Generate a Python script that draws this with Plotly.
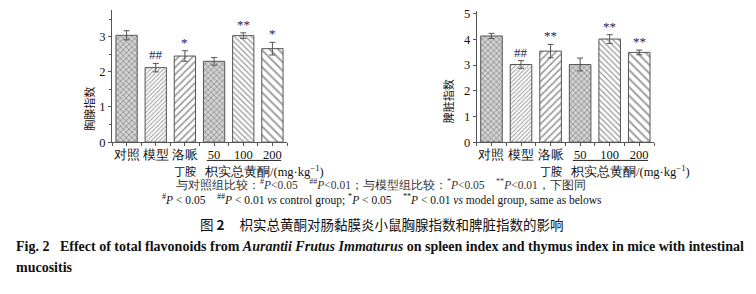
import plotly.graph_objects as go

# ---------------- data ----------------
categories = ["对照", "模型", "洛哌", "50", "100", "200"]
thymus_mean = [3.04, 2.12, 2.45, 2.30, 3.03, 2.66]
thymus_err = [0.13, 0.12, 0.15, 0.11, 0.08, 0.18]
thymus_sig = ["", "##", "*", "", "**", "*"]
spleen_mean = [4.13, 3.02, 3.54, 3.02, 4.01, 3.49]
spleen_err = [0.10, 0.15, 0.26, 0.25, 0.17, 0.09]
spleen_sig = ["", "##", "**", "", "**", "**"]

pat_shape = ["x", "/", "/", "x", "\\", "\\"]
pat_size = [4, 3, 5, 4, 4, 6]
pat_bg = ["#d2d2d2", "#ffffff", "#ffffff", "#d2d2d2", "#ffffff", "#ffffff"]
pat_fg = ["#6a6a6a", "#8a8a8a", "#8a8a8a", "#6a6a6a", "#8a8a8a", "#8a8a8a"]

W, H = 756, 294
SERIF = "Liberation Serif"
CJK = "Noto Sans CJK SC"
xs = list(range(len(categories)))

fig = go.Figure()

def add_bars(mean, err, xa, ya):
    fig.add_trace(go.Bar(
        x=xs, y=mean, xaxis=xa, yaxis=ya, width=0.73,
        marker=dict(color=pat_bg, line=dict(color="#555555", width=1),
                    pattern=dict(shape=pat_shape, size=pat_size, fgcolor=pat_fg,
                                 bgcolor=pat_bg, solidity=0.35)),
        error_y=dict(type="data", array=err, color="#555555", thickness=1, width=3),
        showlegend=False, hoverinfo="skip"))

add_bars(thymus_mean, thymus_err, "x", "y")
add_bars(spleen_mean, spleen_err, "x2", "y2")

def px_x(p):
    return p / W

def px_y(p):
    return (H - p) / H

ax_common = dict(showline=True, linecolor="#555555", linewidth=1, ticks="outside",
                 ticklen=3, tickcolor="#555555", showgrid=False, zeroline=False,
                 tickfont=dict(family=SERIF, size=12.5, color="#111"))

y0 = 143.5
xminor = dict(tickvals=[i + 0.5 for i in range(-1, 6)], ticklen=3,
              tickcolor="#555555", ticks="outside")
fig.update_layout(
    width=W, height=H, margin=dict(l=0, r=0, t=0, b=0),
    plot_bgcolor="white", paper_bgcolor="white", bargap=0.27,
    xaxis=dict(domain=[px_x(112), px_x(287)], range=[-0.5, 5.5],
               tickvals=xs, ticktext=categories, anchor="y", ticklabelstandoff=-2,
               minor=xminor, **ax_common),
    yaxis=dict(domain=[px_y(y0), px_y(6.6)], range=[0, 3.75], tickvals=[0, 1, 2, 3],
               anchor="x", minor=dict(dtick=0.5, ticklen=2, ticks="outside",
                                      tickcolor="#555555"), **ax_common),
    xaxis2=dict(domain=[px_x(476.7), px_x(654)], range=[-0.5, 5.5],
                tickvals=xs, ticktext=categories, anchor="y2", ticklabelstandoff=-2,
                minor=xminor, **ax_common),
    yaxis2=dict(domain=[px_y(y0), px_y(7.3)], range=[0, 5.1], tickvals=[0, 1, 2, 3, 4, 5],
                anchor="x2", **ax_common),
)

ann = []
shapes = []
# significance marks
for xa, ya, mean, err, sig in [("x", "y", thymus_mean, thymus_err, thymus_sig),
                               ("x2", "y2", spleen_mean, spleen_err, spleen_sig)]:
    for i, s in enumerate(sig):
        if s:
            ann.append(dict(x=i, y=mean[i] + err[i], xref=xa, yref=ya, text=s,
                            showarrow=False, yanchor="bottom", yshift=-1,
                            font=dict(family=SERIF, size=13, color="#1c2456")))
    # second line labels
    ann.append(dict(x=2, y=px_y(174), xref=xa, yref="paper", text="丁胺", showarrow=False,
                    font=dict(family=CJK, size=11, color="#111")))
    ann.append(dict(x=2.58, y=px_y(174), xref=xa, yref="paper", xanchor="left",
                    text="枳实总黄酮/(mg·kg<sup>−1</sup>)", showarrow=False,
                    font=dict(family=SERIF, size=12.5, color="#111")))
    shapes.append(dict(type="line", xref=xa, yref="paper", x0=2.75, x1=5.3,
                       y0=px_y(162.5), y1=px_y(162.5), line=dict(color="#222", width=1)))

# axis titles
ann.append(dict(x=px_x(79), y=px_y(84), xref="paper", yref="paper", text="胸腺指数",
                textangle=-90, showarrow=False, font=dict(family=CJK, size=11, color="#111")))
ann.append(dict(x=px_x(448), y=px_y(76), xref="paper", yref="paper", text="脾脏指数",
                textangle=-90, showarrow=False, font=dict(family=CJK, size=11, color="#111")))

nb = "\u00a0"
line1 = ("与对照组比较：<sup>#</sup><i>P</i>&lt;0.05" + nb * 4 + "<sup>##</sup><i>P</i>&lt;0.01；"
         "与模型组比较：<sup>*</sup><i>P</i>&lt;0.05" + nb * 4 + "<sup>**</sup><i>P</i>&lt;0.01，下图同")
line2 = ("<sup>#</sup><i>P</i> &lt; 0.05" + nb * 4 + "<sup>##</sup><i>P</i> &lt; 0.01 <i>vs</i> control group; "
         "<sup>*</sup><i>P</i> &lt; 0.05" + nb * 4 + "<sup>**</sup><i>P</i> &lt; 0.01 <i>vs</i> model group, same as belows")
line3 = "图 <b>2</b>" + nb * 5 + "枳实总黄酮对肠黏膜炎小鼠胸腺指数和脾脏指数的影响"
line4 = ("<b>Fig. 2" + nb * 3 + "Effect of total flavonoids from <i>Aurantii Frutus Immaturus</i> "
         "on spleen index and thymus index in mice with intestinal</b>")
line5 = "<b>mucositis</b>"

ann.append(dict(x=px_x(381), y=px_y(196), xref="paper", yref="paper", text=line1,
                showarrow=False, font=dict(family=SERIF, size=11.5, color="#333")))
ann.append(dict(x=px_x(382), y=px_y(213), xref="paper", yref="paper", text=line2,
                showarrow=False, font=dict(family=SERIF, size=11.5, color="#111")))
ann.append(dict(x=px_x(382), y=px_y(241), xref="paper", yref="paper", text=line3,
                showarrow=False, font=dict(family=CJK, size=13.5, color="#111")))
ann.append(dict(x=px_x(14), y=px_y(262), xref="paper", yref="paper", text=line4,
                xanchor="left", showarrow=False, font=dict(family=SERIF, size=14, color="#111")))
ann.append(dict(x=px_x(14), y=px_y(284), xref="paper", yref="paper", text=line5,
                xanchor="left", showarrow=False, font=dict(family=SERIF, size=14, color="#111")))

fig.update_layout(annotations=ann, shapes=shapes)
fig.write_html("out.html")
